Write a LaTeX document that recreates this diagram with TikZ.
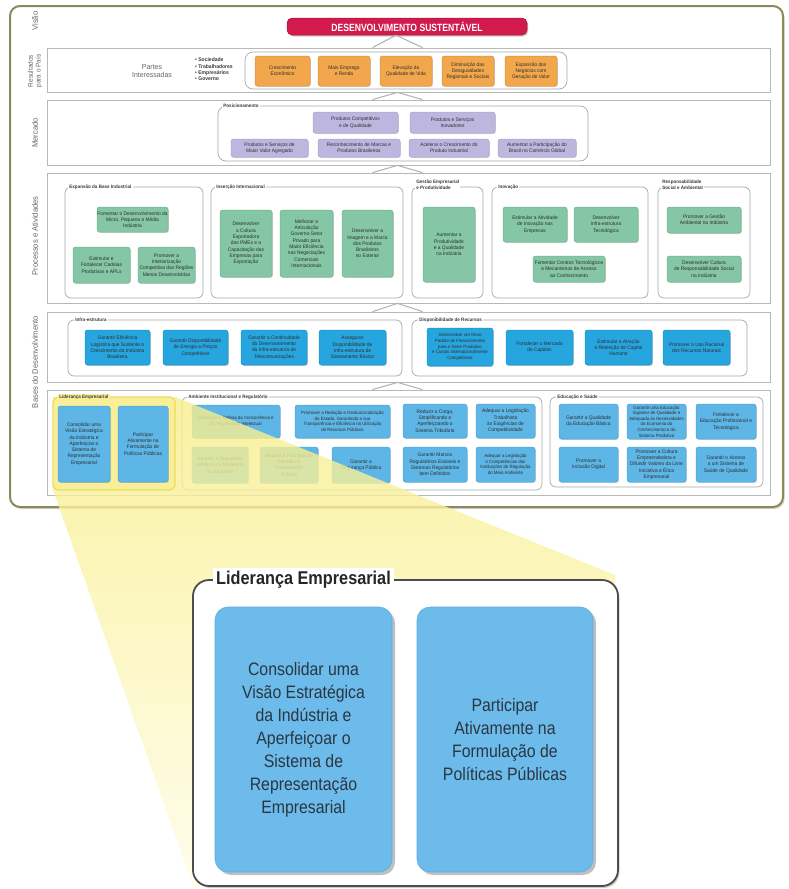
\documentclass[tikz,border=0pt]{standalone}
\usepackage{fontspec}
\setmainfont{Liberation Sans}
\newfontfamily\cond[FakeStretch=0.82]{Liberation Sans}
\newfontfamily\norm[FakeStretch=0.95]{Liberation Sans}
\newfontfamily\condw[FakeStretch=0.88]{Liberation Sans}
\usetikzlibrary{fit,shadows,calc}
\definecolor{frameol}{HTML}{8C8858}
\definecolor{rowgray}{HTML}{B8B8B8}
\definecolor{grpgray}{HTML}{A8A8A8}
\definecolor{chevgray}{HTML}{B0B0B0}
\definecolor{vlab}{HTML}{666666}
\definecolor{boxtext}{HTML}{2E2E2E}
\definecolor{grplab}{HTML}{3A3A3A}
\definecolor{hdrred}{HTML}{D21A4C}
\definecolor{orangef}{HTML}{F3A74C}
\definecolor{oranged}{HTML}{DE9238}
\definecolor{purplef}{HTML}{BDB7E0}
\definecolor{purpled}{HTML}{A9A2D2}
\definecolor{greenf}{HTML}{84C6A5}
\definecolor{greend}{HTML}{6FB793}
\definecolor{infraf}{HTML}{27A5DE}
\definecolor{infrad}{HTML}{1C95CE}
\definecolor{basesf}{HTML}{5DB6E6}
\definecolor{basesd}{HTML}{4AA8DC}
\definecolor{bigf}{HTML}{6DBBEA}
\definecolor{bigd}{HTML}{5AAEE2}
\definecolor{bigtext}{HTML}{2A3642}
\definecolor{ledf}{HTML}{F8EF98}
\definecolor{ledd}{HTML}{EEDC62}
\definecolor{beamtop}{HTML}{F8EE8A}
\definecolor{beambot}{HTML}{FFFCE6}
\definecolor{bigframe}{HTML}{4D4D4D}
\newcommand{\mybox}[7]{%
  \pgfmathsetmacro\bxcx{(#3+#5)/2}\pgfmathsetmacro\bxcy{(#4+#6)/2}%
  \pgfmathsetmacro\bxw{#5-#3}\pgfmathsetmacro\bxh{#6-#4}%
  \node[#2, minimum width=\bxw pt, minimum height=\bxh pt] (#1) at (\bxcx,\bxcy) {#7};}
\newcommand{\mychev}[2]{\draw[chev] ($(#2.north west)+(326,0)$) -- ($(#1.south)+(-11,0)$) -- ($(#2.north west)+(376,0)$);}
\begin{document}
\begin{tikzpicture}[x=1pt,y=-1pt,
  every node/.style={font=\norm},
  framebox/.style={draw=frameol, line width=2pt, rounded corners=10pt, fill=white, inner sep=0pt,
    drop shadow={shadow xshift=1.5pt, shadow yshift=-2pt, opacity=0.35}},
  rowbox/.style={draw=rowgray, line width=0.8pt, fill=white, inner sep=0pt},
  grp/.style={draw=grpgray, line width=0.7pt, rounded corners=6pt, inner sep=0pt},
  sbox/.style={rounded corners=2.5pt, inner sep=0pt, align=center, text=boxtext,
    font=\norm\fontsize{5.1}{6.3}\selectfont, line width=0.5pt,
    drop shadow={shadow xshift=0.8pt, shadow yshift=-0.9pt, opacity=0.35}},
  dense/.style={font=\norm\fontsize{4.6}{5.6}\selectfont},
  obox/.style={sbox, fill=orangef, draw=oranged},
  pbox/.style={sbox, fill=purplef, draw=purpled},
  gbox/.style={sbox, fill=greenf, draw=greend},
  ibox/.style={sbox, fill=infraf, draw=infrad},
  bbox/.style={sbox, fill=basesf, draw=basesd},
  glabel/.style={font=\norm\bfseries\fontsize{4.8}{5.6}\selectfont, fill=white, inner xsep=1.2pt,
    inner ysep=0.6pt, anchor=west, text=grplab, align=left},
  vlabel/.style={rotate=90, font=\norm\fontsize{8}{9}\selectfont, text=vlab, align=center},
  chev/.style={draw=chevgray, line width=1pt, line join=round},
  hdr/.style={fill=hdrred, draw=hdrred!85!black, line width=0.5pt, rounded corners=5pt, inner sep=0pt,
    text=white, font=\cond\bfseries\fontsize{10.5}{12}\selectfont,
    drop shadow={shadow xshift=1.2pt, shadow yshift=-1.5pt, opacity=0.4}},
  ledgrp/.style={fill=ledf, draw=ledd, line width=1.4pt, rounded corners=6pt, inner sep=0pt},
  bigframe/.style={draw=bigframe, line width=1.8pt, rounded corners=16pt, fill=white, inner sep=0pt,
    drop shadow={shadow xshift=1.5pt, shadow yshift=-2pt, opacity=0.4}},
  bigtitle/.style={font=\condw\bfseries\fontsize{18.5}{21}\selectfont, fill=white, inner xsep=3pt,
    anchor=west, text=black!85},
  bigbox/.style={fill=bigf, draw=bigd, line width=0.6pt, rounded corners=13pt, inner sep=0pt, align=center,
    text=bigtext, font=\condw\fontsize{18}{23}\selectfont,
    drop shadow={shadow xshift=3pt, shadow yshift=-3pt, opacity=0.5}}
]
\useasboundingbox (0,0) rectangle (788,889);

% outer frame
\node[framebox, fit={(10,6) (783,507)}] (frame) {};

% vertical labels
\node[vlabel] (vVisao) at (35,21) {Visão};
\node[vlabel, font=\norm\fontsize{6.8}{7.6}\selectfont] (vRes) at (35,71) {Resultados\\para o País};
\node[vlabel] (vMerc) at (35,133) {Mercado};
\node[vlabel] (vProc) at (35,236) {Processos e Atividades};
\node[vlabel] (vBases) at (35,362) {Bases do Desenvolvimento};

% header
\mybox{hdr}{hdr}{287}{18}{527}{35}{DESENVOLVIMENTO SUSTENTÁVEL}

% rows
\node[rowbox, fit={(47,48) (770,92)}] (r1) {};
\node[rowbox, fit={(47,100) (770,165)}] (r2) {};
\node[rowbox, fit={(47,173) (770,303)}] (r3) {};
\node[rowbox, fit={(47,312) (770,382)}] (r4) {};
\node[rowbox, fit={(47,390) (770,495)}] (r5) {};

% chevrons
\mychev{hdr}{r1}
\mychev{r1}{r2}
\mychev{r2}{r3}
\mychev{r3}{r4}
\mychev{r4}{r5}

% ---- Resultados para o Pais
\node[font=\norm\fontsize{7.3}{8.4}\selectfont, text=vlab, align=center] (partes) at (152,71) {Partes\\Interessadas};
\node[font=\norm\bfseries\fontsize{5.3}{6.4}\selectfont, text=grplab, align=left, anchor=west, inner sep=0pt] (bul) at (195,69.5)
  {• Sociedade\\• Trabalhadores\\• Empresários\\• Governo};
\node[grp, rounded corners=8pt, fit={(245,52) (567,89)}] (gres) {};
\mybox{o1}{obox}{255}{56}{310}{86}{Crescimento\\Econômico}
\mybox{o2}{obox}{318}{56}{370}{86}{Mais Emprego\\e Renda}
\mybox{o3}{obox}{380}{56}{432}{86}{Elevação da\\Qualidade de Vida}
\mybox{o4}{obox}{442}{56}{494}{86}{Diminuição das\\Desigualdades\\Regionais e Sociais}
\mybox{o5}{obox}{505}{56}{557}{86}{Expansão dos\\Negócios com\\Geração de Valor}

% ---- Mercado
\node[grp, rounded corners=8pt, fit={(218,106) (588,161)}] (gpos) {};
\node[glabel] (lpos) at (222,106) {Posicionamento};
\mybox{p1}{pbox}{313}{112}{398}{133}{Produtos Competitivos\\e de Qualidade}
\mybox{p2}{pbox}{410}{112}{495}{133}{Produtos e Serviços\\Inovadores}
\mybox{p3}{pbox}{231}{139}{308}{157}{Produtos e Serviços de\\Maior Valor Agregado}
\mybox{p4}{pbox}{318}{139}{400}{157}{Reconhecimento de Marcas e\\Produtos Brasileiros}
\mybox{p5}{pbox}{409}{139}{489}{157}{Acelerar o Crescimento do\\Produto Industrial}
\mybox{p6}{pbox}{498}{139}{576}{157}{Aumentar a Participação do\\Brasil no Comércio Global}

% ---- Processos e Atividades
\node[grp, fit={(65,187) (203,298)}] (g1) {};
\node[glabel] (lg1) at (68,187) {Expansão da Base Industrial};
\mybox{e1}{gbox}{97}{207}{168}{232}{Fomentar o Desenvolvimento da\\Micro, Pequena e Média\\Indústria}
\mybox{e2}{gbox}{73}{247}{130}{283}{Estimular e\\Fortalecer Cadeias\\Produtivas e APLs}
\mybox{e3}{gbox}{138}{247}{195}{283}{Promover a\\Interiorização\\Competitiva das Regiões\\Menos Desenvolvidas}

\node[grp, fit={(211,187) (403,298)}] (g2) {};
\node[glabel] (lg2) at (215,187) {Inserção Internacional};
\mybox{e4}{gbox}{220}{210}{272}{277}{Desenvolver\\a Cultura\\Exportadora\\das PMEs e a\\Capacitação das\\Empresas para\\Exportação}
\mybox{e5}{gbox}{280}{210}{333}{277}{Melhorar a\\Articulação\\Governo-Setor\\Privado para\\Maior Eficiência\\nas Negociações\\Comerciais\\Internacionais}
\mybox{e6}{gbox}{342}{210}{393}{277}{Desenvolver a\\Imagem e a Marca\\dos Produtos\\Brasileiros\\no Exterior}

\node[grp, fit={(412,187) (483,298)}] (g3) {};
\node[glabel, anchor=south west] (lg3) at (415,190) {Gestão Empresarial\\e Produtividade};
\mybox{e7}{gbox}{423}{207}{475}{282}{Aumentar a\\Produtividade\\e a Qualidade\\na Indústria}

\node[grp, fit={(492,187) (648,298)}] (g4) {};
\node[glabel] (lg4) at (497,187) {Inovação};
\mybox{e8}{gbox}{503}{207}{567}{242}{Estimular a Atividade\\de Inovação nas\\Empresas}
\mybox{e9}{gbox}{574}{207}{638}{242}{Desenvolver\\Infra-estrutura\\Tecnológica}
\mybox{e10}{gbox}{533}{256}{605}{282}{Fomentar Centros Tecnológicos\\e Mecanismos de Acesso\\ao Conhecimento}

\node[grp, fit={(658,187) (750,298)}] (g5) {};
\node[glabel, anchor=south west] (lg5) at (661,190) {Responsabilidade\\Social e Ambiental};
\mybox{e11}{gbox}{667}{207}{741}{233}{Promover a Gestão\\Ambiental na Indústria}
\mybox{e12}{gbox}{667}{256}{741}{282}{Desenvolver Cultura\\de Responsabilidade Social\\na Indústria}

% ---- Infra
\node[grp, fit={(68,320) (402,376)}] (gi1) {};
\node[glabel] (lgi1) at (74,320) {Infra-estrutura};
\mybox{i1}{ibox}{85}{330}{150}{365}{Garantir Eficiência\\Logística que Sustente o\\Crescimento da Indústria\\Brasileira}
\mybox{i2}{ibox}{163}{330}{228}{365}{Garantir Disponibilidade\\de Energia a Preços\\Competitivos}
\mybox{i3}{ibox}{241}{330}{307}{365}{Garantir a Continuidade\\do Desenvolvimento\\da Infra-estrutura de\\Telecomunicações}
\mybox{i4}{ibox}{319}{330}{386}{365}{Assegurar\\Disponibilidade de\\Infra-estrutura de\\Saneamento Básico}

\node[grp, fit={(412,320) (747,376)}] (gi2) {};
\node[glabel] (lgi2) at (418,320) {Disponibilidade de Recursos};
\mybox{i5}{ibox, dense}{427}{328}{493}{366}{Desenvolver um Novo\\Padrão de Financiamento\\para o Setor Produtivo\\e Custos Internacionalmente\\Competitivos}
\mybox{i6}{ibox}{506}{330}{573}{365}{Fortalecer o Mercado\\de Capitais}
\mybox{i7}{ibox}{585}{330}{652}{365}{Estimular a Atração\\e Retenção de Capital\\Humano}
\mybox{i8}{ibox}{663}{330}{730}{365}{Promover o Uso Racional\\dos Recursos Naturais}

% ---- Bases
\node[grp, fit={(182,397) (542,490)}] (gamb) {};
\node[glabel] (lamb) at (187,397) {Ambiente Institucional e Regulatório};
\mybox{a1}{bbox, dense}{192}{405}{280}{438}{Fortalecer a Defesa da Concorrência e\\da Propriedade Intelectual}
\mybox{a2}{bbox, dense}{295}{405}{390}{438}{Promover a Redução e Desburocratização\\do Estado, Garantindo a sua\\Transparência e Eficiência na Utilização\\de Recursos Públicos}
\mybox{a3}{bbox}{403}{404}{467}{438}{Reduzir a Carga,\\Simplificando e\\Aperfeiçoando o\\Sistema Tributário}
\mybox{a4}{bbox}{476}{404}{535}{438}{Adequar a Legislação\\Trabalhista\\às Exigências de\\Competitividade}
\mybox{a5}{bbox}{192}{447}{248}{483}{Garantir a Segurança\\Jurídica e a Eficiência\\do Judiciário}
\mybox{a6}{bbox}{260}{447}{318}{483}{Ampliar a Participação\\Privada no\\Investimento\\Público}
\mybox{a7}{bbox}{332}{447}{390}{483}{Garantir a\\Segurança Pública}
\mybox{a8}{bbox}{403}{447}{467}{482}{Garantir Marcos\\Regulatórios Estáveis e\\Sistemas Regulatórios\\bem Definidos}
\mybox{a9}{bbox, dense}{476}{447}{535}{482}{Adequar a Legislação\\e Competências das\\Instituições de Regulação\\do Meio Ambiente}

\node[grp, fit={(550,397) (763,487)}] (gedu) {};
\node[glabel] (ledu) at (556,397) {Educação e Saúde};
\mybox{d1}{bbox}{559}{404}{618}{439}{Garantir a Qualidade\\da Educação Básica}
\mybox{d2}{bbox, dense}{627}{404}{686}{439}{Garantir uma Educação\\Superior de Qualidade e\\Adequada às Necessidades\\da Economia do\\Conhecimento e do\\Sistema Produtivo}
\mybox{d3}{bbox}{696}{404}{756}{439}{Fortalecer a\\Educação Profissional e\\Tecnológica}
\mybox{d4}{bbox}{559}{447}{618}{482}{Promover a\\Inclusão Digital}
\mybox{d5}{bbox}{627}{447}{686}{482}{Promover a Cultura\\Empreendedora e\\Difundir Valores da Livre\\Iniciativa e Ética\\Empresarial}
\mybox{d6}{bbox}{696}{447}{756}{482}{Garantir o Acesso\\a um Sistema de\\Saúde de Qualidade}

% ---- spotlight beam
\shade[top color=beamtop, bottom color=beambot, fill opacity=0.8]
  (53,397) -- (175,397) -- (615,575) -- (615,886) -- (193,886) -- (53,490) -- cycle;

% Lideranca group (highlighted)
\node[ledgrp, fit={(53,397) (175,490)}] (glid) {};
\node[glabel, fill=ledf] (llid) at (58,397) {Liderança Empresarial};
\mybox{l1}{bbox}{58}{406}{110}{482}{Consolidar uma\\Visão Estratégica\\da Indústria e\\Aperfeiçoar o\\Sistema de\\Representação\\Empresarial}
\mybox{l2}{bbox}{118}{406}{168}{482}{Participar\\Ativamente na\\Formulação de\\Políticas Públicas}

% ---- enlarged view
\node[bigframe, fit={(193,580) (618,886)}] (big) {};
\node[bigtitle] (bigt) at (213,580) {Liderança Empresarial};
\mybox{bl1}{bigbox}{215}{607}{392}{872}{Consolidar uma\\Visão Estratégica\\da Indústria e\\Aperfeiçoar o\\Sistema de\\Representação\\Empresarial}
\mybox{bl2}{bigbox}{417}{607}{593}{872}{Participar\\Ativamente na\\Formulação de\\Políticas Públicas}
\end{tikzpicture}
\end{document}
